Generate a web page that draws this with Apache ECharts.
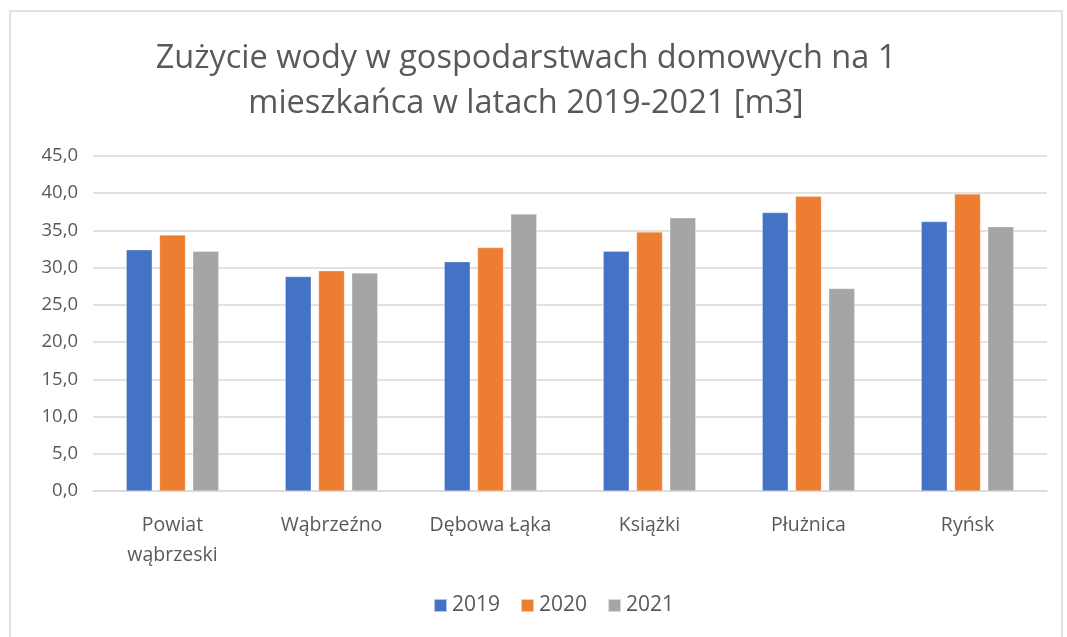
<!DOCTYPE html>
<html>
<head>
<meta charset="utf-8">
<script src="https://cdn.jsdelivr.net/npm/echarts@6/dist/echarts.min.js"></script>
<style>
  html, body { margin: 0; padding: 0; background: #fff; }
  #chart { width: 1067px; height: 637px; }
</style>
</head>
<body>
<div id="chart"></div>
<script>
const titleText = 'Zużycie wody w gospodarstwach domowych na 1\nmieszkańca w latach 2019-2021 [m3]';
const categories = ['Powiat wąbrzeski', 'Wąbrzeźno', 'Dębowa Łąka', 'Książki', 'Płużnica', 'Ryńsk'];
const years = ['2019', '2020', '2021'];
const values2019 = [32.4, 28.8, 30.8, 32.2, 37.4, 36.2];
const values2020 = [34.4, 29.6, 32.7, 34.8, 39.6, 39.9];
const values2021 = [32.2, 29.3, 37.2, 36.7, 27.2, 35.5];
const colors = ['#4472C4', '#ED7D31', '#A5A5A5'];

const font = '"Open Sans", "Noto Sans", sans-serif';
const textColor = '#595959';

const chart = echarts.init(document.getElementById('chart'), null, { renderer: 'canvas' });

const seriesData = [values2019, values2020, values2021];

chart.setOption({
  animation: false,
  color: colors,
  textStyle: { fontFamily: font },
  title: {
    text: titleText,
    left: 521,
    textAlign: 'center',
    top: 31,
    textStyle: {
      fontFamily: font,
      fontSize: 32.5,
      fontWeight: 'normal',
      color: textColor,
      lineHeight: 45
    }
  },
  graphic: [{
    type: 'rect',
    shape: { x: 10, y: 11, width: 1052, height: 660 },
    style: { fill: 'none', stroke: '#d9d9d9', lineWidth: 1.5 },
    silent: true
  }],
  legend: {
    data: years,
    bottom: 16,
    left: 428,
    icon: 'rect',
    itemWidth: 13,
    itemHeight: 13,
    itemGap: 20,
    textStyle: { fontFamily: font, fontSize: 21, color: textColor }
  },
  grid: {
    left: 93,
    right: 20,
    top: 156,
    height: 335,
    containLabel: false
  },
  xAxis: {
    type: 'category',
    data: categories,
    axisLine: { lineStyle: { color: '#d9d9d9', width: 1.5 } },
    axisTick: { show: false },
    axisLabel: {
      fontFamily: font,
      fontSize: 19.5,
      color: textColor,
      margin: 19,
      lineHeight: 30,
      interval: 0,
      // only the long county name goes on two lines
      formatter: name => name.length > 12 ? name.replace(' ', '\n') : name
    }
  },
  yAxis: {
    type: 'value',
    min: 0,
    max: 45,
    interval: 5,
    axisLine: { show: false },
    axisTick: { show: false },
    axisLabel: {
      fontFamily: font,
      fontSize: 18.5,
      color: textColor,
      margin: 15,
      formatter: v => v.toFixed(1).replace('.', ',')
    },
    splitLine: { lineStyle: { color: '#d9d9d9', width: 1.5 } }
  },
  series: years.map((y, i) => ({
    name: y,
    type: 'bar',
    data: seriesData[i],
    barWidth: 26,
    barGap: '28%',
    itemStyle: { borderColor: 'rgba(255,255,255,0.6)', borderWidth: 0.5 }
  }))
});
</script>
</body>
</html>
